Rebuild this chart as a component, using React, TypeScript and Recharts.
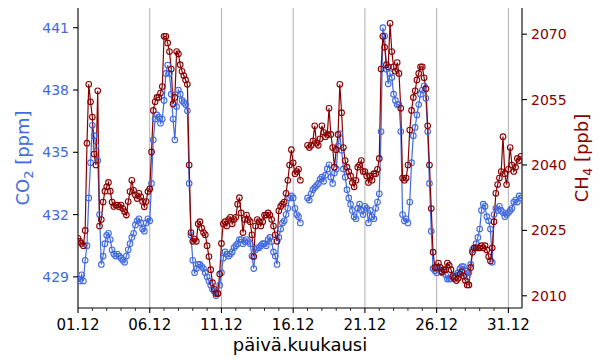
import React from "react"
import {
  ComposedChart,
  Line,
  XAxis,
  YAxis,
  ReferenceLine,
} from "recharts"

const co2Color = "#4169e1"
const ch4Color = "#8b0000"

// mittaukset 3 h välein, 8 arvoa / vrk, 01.12 00:00 alkaen
const co2Ppm = [
  428.9, 428.8, 429.1, 428.8, 429.8, 430.5, 432.8, 434.5,
  436.3, 435.8, 435.3, 434.6, 432.0, 429.6, 430.0, 430.6,
  431.0, 431.1, 430.8, 430.3, 430.1, 430.0, 430.1, 430.0,
  429.9, 429.8, 429.7, 430.0, 430.3, 430.6, 430.9, 431.1,
  431.5, 431.7, 431.8, 431.6, 431.3, 431.2, 431.6, 431.8,
  431.7, 433.5, 435.6, 436.6, 436.8, 436.7, 436.4, 436.6,
  437.5, 438.8, 439.2, 438.8, 437.8, 436.6, 435.6, 437.2,
  438.0, 437.8, 437.5, 437.4, 437.3, 437.0, 433.5, 431.0,
  429.8, 429.2, 429.4, 429.6, 429.6, 429.5, 429.4, 429.2,
  429.0, 428.8, 428.6, 428.4, 428.3, 428.1, 428.2, 428.6,
  429.2, 429.9, 430.2, 430.1, 430.0, 430.1, 430.2, 430.4,
  430.5, 430.6, 430.8, 430.8, 430.6, 430.7, 430.8, 430.7,
  430.6, 430.0, 429.4, 430.3, 430.4, 430.4, 430.5, 430.6,
  430.6, 430.5, 430.8, 430.9, 430.7, 430.2, 430.0, 429.6,
  430.9, 431.3, 431.6, 431.7, 432.0, 432.3, 432.8, 432.9,
  432.8, 432.3, 432.0, 431.9, 431.6, null, null, null,
  432.8, 432.7, 433.0, 433.2, 433.3, 433.4, 433.5, 433.7,
  433.8, 433.6, 433.9, 434.2, 434.4, 433.8, 433.5, 434.0,
  434.2, 435.3, 435.9, 435.1, 434.2, 433.8, 433.2, 432.8,
  432.5, 432.2, 431.9, 431.8, 432.3, 432.5, 432.2, 432.0,
  432.4, 432.3, 431.6, 432.2, 431.9, 431.8, 432.3, 432.6,
  433.0, 436.0, 441.0, 440.6, 439.0, 438.3, 438.8, 438.6,
  437.8, 437.5, 437.3, 437.3, 436.0, 432.0, 431.7, 431.8,
  431.6, 432.6, 434.5, 435.8, 436.2, 436.8, 437.3, 437.8,
  438.0, 438.2, 437.6, 436.0, 433.5, 431.2, 429.4, 429.3,
  429.2, 429.4, 429.3, 429.2, 429.3, 429.1, 428.9, 428.9,
  428.9, 429.0, 429.1, 429.0, 429.2, 429.4, 429.5, 429.5,
  429.3, 429.0, 429.2, 429.6, 430.3, 430.4, 430.6, 430.9,
  431.3, 432.2, 432.5, 432.4, 431.9, 431.7, 431.3, 429.7,
  432.0, 432.3, 432.2, 432.4, 432.2, 432.1, 431.9, 432.0,
  432.1, 432.2, 432.3, 432.6, 432.7, 432.6, 432.9, 432.8,
]

const ch4Ppb = [
  2023.2, 2022.5, 2022.0, 2021.5, 2025.0, 2045.0, 2058.5, 2054.5,
  2051.0, 2042.5, 2040.0, 2057.0, 2026.0, 2027.5, 2031.5, 2034.0,
  2035.0, 2036.0, 2034.0, 2031.5, 2030.5, 2030.8, 2030.8, 2030.4,
  2030.8, 2030.0, 2029.3, 2028.5, 2031.6, 2033.9, 2036.5, 2034.2,
  2033.1, 2032.3, 2033.5, 2032.7, 2031.6, 2030.4, 2031.6, 2033.9,
  2034.5, 2043.0, 2052.5, 2054.5, 2055.5, 2055.5, 2056.5, 2058.0,
  2069.5, 2069.5, 2068.0, 2066.0, 2062.0, 2054.0, 2055.5, 2066.0,
  2065.5, 2063.0, 2061.5, 2060.5, 2059.5, 2058.5, 2040.0, 2024.5,
  2022.5, 2023.0, 2022.5, 2026.5, 2027.0, 2025.5, 2024.5, 2024.0,
  2021.5, 2019.0, 2016.0, 2013.0, 2011.5, 2010.5, 2010.5, 2015.0,
  2022.0, 2026.5, 2027.0, 2026.0, 2027.5, 2028.0, 2026.5, 2027.5,
  2028.0, 2031.0, 2032.5, 2029.0, 2024.5, 2027.5, 2028.5, 2027.5,
  2027.0, 2024.0, 2019.0, 2026.0, 2027.5, 2027.0, 2026.0, 2027.0,
  2028.5, 2028.5, 2029.0, 2028.5, 2027.5, 2026.0, 2024.0, 2022.5,
  2029.5, 2030.5, 2031.0, 2031.5, 2033.5, 2036.5, 2040.0, 2043.5,
  2040.5, 2038.0, 2038.5, 2039.0, 2036.5, null, null, null,
  2044.5, 2044.0, 2044.5, 2045.5, 2049.0, 2045.0, 2044.5, 2046.0,
  2049.0, 2047.5, 2046.5, 2047.0, 2053.0, 2047.0, 2044.0, 2039.5,
  2043.5, 2047.0, 2058.5, 2052.0, 2044.0, 2041.0, 2039.5, 2038.5,
  2037.5, 2036.0, 2035.0, 2036.5, 2039.5, 2040.0, 2041.0, 2038.5,
  2038.5, 2037.5, 2036.0, 2037.5, 2036.5, 2038.0, 2038.0, 2039.0,
  2041.5, 2062.0, 2069.5, 2067.0, 2063.0, 2062.5, 2072.5, 2066.0,
  2062.5, 2061.5, 2063.5, 2061.0, 2053.0, 2037.0, 2036.5, 2037.0,
  2040.0, 2048.0, 2052.5, 2055.5, 2057.0, 2059.5, 2061.0, 2062.5,
  2062.5, 2060.0, 2057.5, 2049.0, 2040.0, 2030.0, 2020.0, 2016.5,
  2016.5, 2017.5, 2016.5, 2015.5, 2016.0, 2016.0, 2017.5, 2017.0,
  2016.0, 2014.5, 2014.0, 2013.5, 2014.0, 2015.0, 2015.5, 2014.5,
  2013.5, 2012.5, 2012.5, 2016.5, 2020.0, 2021.0, 2021.0, 2021.0,
  2021.0, 2021.5, 2021.0, 2021.5, 2020.5, 2019.0, 2018.0, 2021.0,
  2027.0, 2033.5, 2035.5, 2037.0, 2038.5, 2046.5, 2038.0, 2035.5,
  2039.0, 2044.0, 2040.0, 2038.5, 2039.5, 2041.5, 2041.0, 2042.0,
]

const dayTicks = [
  0, 1, 2, 3, 4, 5, 6, 7, 8, 9, 10, 11, 12, 13, 14, 15,
  16, 17, 18, 19, 20, 21, 22, 23, 24, 25, 26, 27, 28, 29, 30,
]
const majorDays = [0, 5, 10, 15, 20, 25, 30]
const dayLabels = ["01.12", "06.12", "11.12", "16.12", "21.12", "26.12", "31.12"]
const co2Ticks = [429, 432, 435, 438, 441]
const ch4Ticks = [2010, 2025, 2040, 2055, 2070]

const data = co2Ppm.map((co2, i) => ({ day: i / 8, co2, ch4: ch4Ppb[i] }))

const DayTick = ({ x, y, payload }: any) => {
  const idx = majorDays.indexOf(payload.value)
  const major = idx >= 0
  return (
    <g>
      <line
        x1={x}
        x2={x}
        y1={y}
        y2={y + (major ? 5 : 3)}
        stroke="#000"
        strokeWidth={major ? 1.1 : 0.8}
      />
      {major && (
        <text x={x} y={y + 22} textAnchor="middle" fontSize={15} fill="#000">
          {dayLabels[idx]}
        </text>
      )}
    </g>
  )
}

const XTitle = ({ viewBox }: any) => (
  <text x={viewBox.x + viewBox.width / 2} y={351} textAnchor="middle" fontSize={18} fill="#000">
    päivä.kuukausi
  </text>
)

const Co2Title = ({ viewBox }: any) => {
  const cy = viewBox.y + viewBox.height / 2
  return (
    <text x={29} y={cy} transform={`rotate(-90, 29, ${cy})`} textAnchor="middle" fontSize={18} fill={co2Color}>
      CO<tspan fontSize={13} dy={4}>2</tspan>
      <tspan dy={-4}> [ppm]</tspan>
    </text>
  )
}

const Ch4Title = ({ viewBox }: any) => {
  const cy = viewBox.y + viewBox.height / 2
  return (
    <text x={588} y={cy} transform={`rotate(-90, 588, ${cy})`} textAnchor="middle" fontSize={18} fill={ch4Color}>
      CH<tspan fontSize={13} dy={4}>4</tspan>
      <tspan dy={-4}> [ppb]</tspan>
    </text>
  )
}

export default function App() {
  return (
    <div style={{ position: "absolute", left: 0, top: 0, width: 600, height: 360, fontFamily: "DejaVu Sans", background: "#fff" }}>
      <ComposedChart width={600} height={360} data={data} margin={{ top: 8, right: 0, bottom: 0, left: 0 }}>
        <XAxis
          dataKey="day"
          type="number"
          domain={[0, 30.95]}
          allowDataOverflow
          ticks={dayTicks}
          interval={0}
          tick={<DayTick />}
          tickLine={false}
          tickSize={0}
          tickMargin={0}
          height={52}
          axisLine={{ stroke: "#000", strokeWidth: 1.1 }}
          label={<XTitle />}
        />
        <XAxis
          xAxisId="top"
          orientation="top"
          type="number"
          domain={[0, 30.95]}
          height={0}
          tick={false}
          tickLine={false}
          axisLine={{ stroke: "#000", strokeWidth: 1.1 }}
        />
        <YAxis
          yAxisId="co2"
          width={78}
          domain={[427.5, 441.95]}
          allowDataOverflow
          ticks={co2Ticks}
          tick={{ fill: co2Color, fontSize: 14 }}
          tickSize={5}
          tickMargin={4}
          tickLine={{ stroke: "#000", strokeWidth: 1.1 }}
          axisLine={{ stroke: "#000", strokeWidth: 1.1 }}
          label={<Co2Title />}
        />
        <YAxis
          yAxisId="ch4"
          orientation="right"
          width={78}
          domain={[2007.2, 2076]}
          allowDataOverflow
          ticks={ch4Ticks}
          tick={{ fill: ch4Color, fontSize: 14 }}
          tickSize={5}
          tickMargin={4}
          tickLine={{ stroke: "#000", strokeWidth: 1.1 }}
          axisLine={{ stroke: "#000", strokeWidth: 1.1 }}
          label={<Ch4Title />}
        />
        {majorDays
          .filter((d) => d > 0)
          .map((d) => (
            <ReferenceLine key={d} x={d} yAxisId="co2" stroke="#b0b0b0" strokeWidth={1} />
          ))}
        <Line
          yAxisId="co2"
          dataKey="co2"
          stroke={co2Color}
          strokeWidth={1.2}
          dot={{ r: 2.8, fill: "none", stroke: co2Color, strokeWidth: 1.1 }}
          activeDot={false}
          isAnimationActive={false}
        />
        <Line
          yAxisId="ch4"
          dataKey="ch4"
          stroke={ch4Color}
          strokeWidth={1.2}
          dot={{ r: 2.8, fill: "none", stroke: ch4Color, strokeWidth: 1.1 }}
          activeDot={false}
          isAnimationActive={false}
        />
      </ComposedChart>
    </div>
  )
}
